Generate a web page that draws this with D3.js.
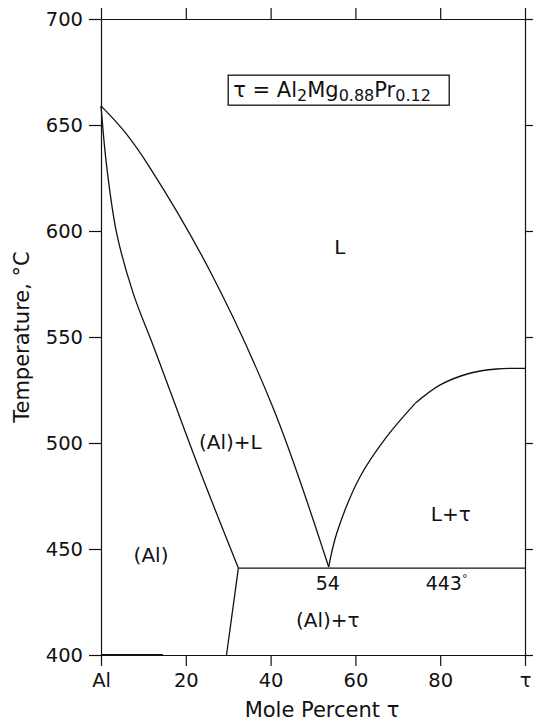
<!DOCTYPE html>
<html>
<head>
<meta charset="utf-8">
<script src="https://cdn.jsdelivr.net/npm/d3@7"></script>
<style>
  body { margin: 0; background: #fff; }
  svg text { font-family: "DejaVu Sans", sans-serif; fill: #111; }
  .axis path, .axis line { stroke: #111; stroke-width: 1.2; }
  .axis text { font-size: 19.5px; }
</style>
</head>
<body>
<div class="graph"></div>
<script>
// Phase boundaries, [mole percent tau, temperature C]
const liquidusAl = [[0, 659], [5.7, 646.5], [11.6, 629.7], [25.7, 581.1],
    [40.6, 516.5], [53.7, 441.5]];
const solidusAl = [[0, 659], [1.35, 630.3], [3.7, 598.9], [7.6, 570.6], [12.7, 543.9],
    [23.35, 486.8], [32.4, 441]];
const solvusAl = [[32.4, 441], [29.6, 400]];
const liquidusTauLow = [[53.7, 441.5], [55.6, 457.4], [61.1, 484.1], [67.4, 503], [74.1, 518.7]];
const liquidusTauHigh = [[74.1, 518.7], [80, 527.4], [87, 532.9], [93.3, 534.9], [100, 535.2]];
const eutectic = [[32.4, 441], [100, 441]];
const baseSegment = [[0, 400], [14.6, 400]];

const xTicks = [0, 20, 40, 60, 80, 100];
const xTickLabels = ["Al", "20", "40", "60", "80", "τ"];
const yTicks = [400, 450, 500, 550, 600, 650, 700];

// region labels: [x, T, text]
const regionLabels = [
    [56.3, 589, "L"],
    [30.5, 497, "(Al)+L"],
    [11.8, 444, "(Al)"],
    [82.5, 463, "L+τ"],
    [53.5, 413, "(Al)+τ"]
];

const dimensions = {
    width: 533,
    height: 723,
    margins: { top: 19, right: 8, bottom: 68, left: 101 }
};
dimensions.boundedWidth = dimensions.width - dimensions.margins.left - dimensions.margins.right;
dimensions.boundedHeight = dimensions.height - dimensions.margins.top - dimensions.margins.bottom;

const svg = d3.select(".graph")
    .append("svg")
        .attr("width", dimensions.width)
        .attr("height", dimensions.height);

const bounds = svg.append("g")
    .attr("transform", `translate(${dimensions.margins.left},${dimensions.margins.top})`);

const xScale = d3.scaleLinear()
    .domain([0, 100])
    .range([0, dimensions.boundedWidth]);
const yScale = d3.scaleLinear()
    .domain([400, 700])
    .range([dimensions.boundedHeight, 0]);

// axes on all four sides, ticks pointing out
bounds.append("g")
    .attr("class", "axis")
    .attr("transform", `translate(0,${dimensions.boundedHeight})`)
    .call(d3.axisBottom(xScale).tickValues(xTicks).tickSize(11).tickSizeOuter(0).tickPadding(7)
        .tickFormat((d, i) => xTickLabels[i]));
bounds.append("g")
    .attr("class", "axis")
    .call(d3.axisTop(xScale).tickValues(xTicks).tickSize(11).tickSizeOuter(0).tickFormat(""));
bounds.append("g")
    .attr("class", "axis")
    .call(d3.axisLeft(yScale).tickValues(yTicks).tickSize(12).tickSizeOuter(0).tickPadding(6));
bounds.append("g")
    .attr("class", "axis")
    .attr("transform", `translate(${dimensions.boundedWidth},0)`)
    .call(d3.axisRight(yScale).tickValues(yTicks).tickSize(10).tickSizeOuter(0).tickFormat(""));

bounds.selectAll(".axis text").attr("fill", "#111");

// phase boundaries
const line = d3.line()
    .x(d => xScale(d[0]))
    .y(d => yScale(d[1]));
const smooth = d3.line()
    .x(d => xScale(d[0]))
    .y(d => yScale(d[1]))
    .curve(d3.curveCatmullRom.alpha(0.5));

[liquidusAl, solidusAl, liquidusTauLow, liquidusTauHigh].forEach(pts => {
    bounds.append("path")
        .attr("d", smooth(pts))
        .attr("fill", "none")
        .attr("stroke", "#111")
        .attr("stroke-width", 1.3);
});
[solvusAl, eutectic].forEach(pts => {
    bounds.append("path")
        .attr("d", line(pts))
        .attr("fill", "none")
        .attr("stroke", "#111")
        .attr("stroke-width", 1.3);
});
bounds.append("path")
    .attr("d", line(baseSegment))
    .attr("fill", "none")
    .attr("stroke", "#111")
    .attr("stroke-width", 2.2);

// region labels
bounds.selectAll(".region")
    .data(regionLabels)
    .join("text")
        .attr("class", "region")
        .attr("x", d => xScale(d[0]))
        .attr("y", d => yScale(d[1]))
        .attr("text-anchor", "middle")
        .attr("font-size", 20)
        .text(d => d[2]);

// eutectic composition and temperature
bounds.append("text")
    .attr("x", xScale(53.5))
    .attr("y", yScale(441) + 22)
    .attr("text-anchor", "middle")
    .attr("font-size", 19)
    .text("54");
const tEut = bounds.append("text")
    .attr("x", xScale(81.5))
    .attr("y", yScale(441) + 22)
    .attr("text-anchor", "middle")
    .attr("font-size", 19);
tEut.append("tspan").text("443");
tEut.append("tspan").attr("font-size", 11).attr("dy", -8).text("°");

// formula box
const box = bounds.append("g")
    .attr("transform", `translate(${xScale(30)},${yScale(673.5)})`);
box.append("rect")
    .attr("width", 221)
    .attr("height", 30)
    .attr("fill", "#fff")
    .attr("stroke", "#111")
    .attr("stroke-width", 1.3);
const formula = box.append("text")
    .attr("x", 5)
    .attr("y", 22)
    .attr("font-size", 21);
formula.append("tspan").text("τ = Al");
formula.append("tspan").attr("font-size", 16).attr("dy", 4).text("2");
formula.append("tspan").attr("dy", -4).text("Mg");
formula.append("tspan").attr("font-size", 16).attr("dy", 4).text("0.88");
formula.append("tspan").attr("dy", -4).text("Pr");
formula.append("tspan").attr("font-size", 16).attr("dy", 4).text("0.12");

// axis titles
svg.append("text")
    .attr("x", 322)
    .attr("y", 717)
    .attr("text-anchor", "middle")
    .attr("font-size", 21)
    .text("Mole Percent  τ");
svg.append("text")
    .attr("transform", "translate(29,337) rotate(-90)")
    .attr("text-anchor", "middle")
    .attr("font-size", 21)
    .text("Temperature, °C");
</script>
</body>
</html>
